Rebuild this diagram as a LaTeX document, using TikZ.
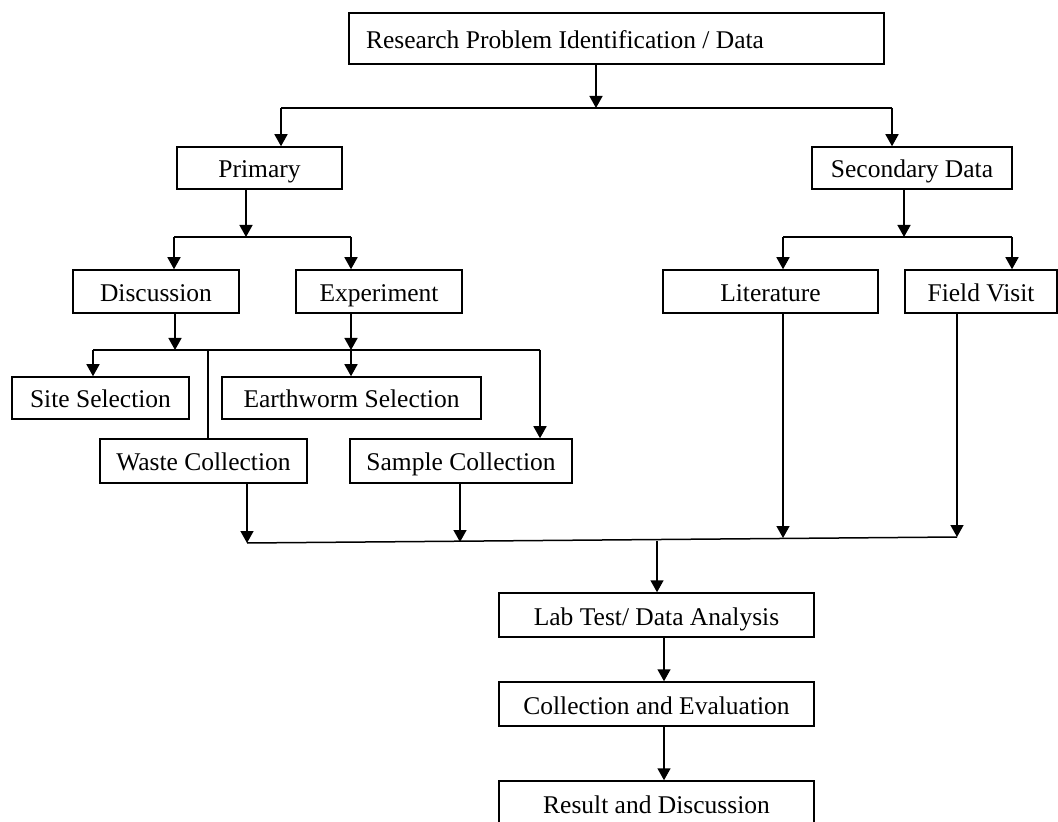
\documentclass[tikz,border=0pt]{standalone}
\usepackage{fontspec}
\setmainfont{Liberation Serif}
\usetikzlibrary{arrows.meta}
\begin{document}
\begin{tikzpicture}[x=0.5pt,y=-0.5pt,
  box/.style={draw, line width=0.75pt, inner sep=0pt, anchor=center,
    text height=11pt, text depth=1pt,
    font=\fontsize{12.75pt}{15pt}\selectfont},
  conn/.style={line width=0.75pt},
  arr/.style={conn, -{Triangle[length=6pt,width=6.5pt]}}]
\useasboundingbox (0,0) rectangle (1058,822);
\clip (0,0) rectangle (1058,822);
\fill[white] (0,0) rectangle (1058,822);
% boxes
\node[box, minimum width=267.5pt, minimum height=25.5pt, inner xsep=8.5pt, text width=250.5pt, align=flush left] (top) at (616.5,38.5) {Research Problem Identification / Data};
\node[box, minimum width=82.5pt, minimum height=21pt] (primary) at (259.5,168) {Primary};
\node[box, minimum width=100pt, minimum height=21pt] (secondary) at (912,168) {Secondary Data};
\node[box, minimum width=83pt, minimum height=21.5pt] (discussion) at (156,291.5) {Discussion};
\node[box, minimum width=83pt, minimum height=21.5pt] (experiment) at (379,291.5) {Experiment};
\node[box, minimum width=107.5pt, minimum height=21.5pt] (literature) at (770.5,291.5) {Literature};
\node[box, minimum width=76pt, minimum height=21.5pt] (fieldvisit) at (981,291.5) {Field Visit};
\node[box, minimum width=88.5pt, minimum height=21pt] (site) at (100.5,398) {Site Selection};
\node[box, minimum width=129.5pt, minimum height=21pt] (earthworm) at (351.5,398) {Earthworm Selection};
\node[box, minimum width=103.5pt, minimum height=22pt] (waste) at (203.5,461) {Waste Collection};
\node[box, minimum width=111pt, minimum height=22pt] (sample) at (461,461) {Sample Collection};
\node[box, minimum width=157.5pt, minimum height=22pt] (labtest) at (656.5,615) {Lab Test/ Data Analysis};
\node[box, minimum width=157.5pt, minimum height=22pt] (collection) at (656.5,704) {Collection and Evaluation};
\node[box, minimum width=157.5pt, minimum height=22pt] (result) at (656.5,803) {Result and Discussion};
% junction coordinates
\coordinate (j1) at (596,108);
\coordinate (l1a) at (281,108);
\coordinate (l1b) at (892,108);
\coordinate (j2) at (246,237);
\coordinate (l2a) at (174,237);
\coordinate (l2b) at (351,237);
\coordinate (j3) at (904,237);
\coordinate (l3a) at (783,237);
\coordinate (l3b) at (1012,237);
\coordinate (jd) at (175,350);
\coordinate (je) at (351,350);
\coordinate (l4a) at (93,350);
\coordinate (l4w) at (208,350);
\coordinate (l4b) at (540,350);
\coordinate (bw) at (247,543);
\coordinate (bs) at (460,542);
\coordinate (bl) at (783,538);
\coordinate (bf) at (957,537);
\coordinate (bc) at (657,541);
\coordinate (xc) at (664,0);
% top level
\draw[arr] (top.south -| j1) -- (j1);
\draw[conn] (l1a) -- (l1b);
\draw[arr] (l1a) -- (primary.north -| l1a);
\draw[arr] (l1b) -- (secondary.north -| l1b);
% primary branch
\draw[arr] (primary.south -| j2) -- (j2);
\draw[conn] (l2a) -- (l2b);
\draw[arr] (l2a) -- (discussion.north -| l2a);
\draw[arr] (l2b) -- (experiment.north -| l2b);
% secondary branch
\draw[arr] (secondary.south -| j3) -- (j3);
\draw[conn] (l3a) -- (l3b);
\draw[arr] (l3a) -- (literature.north -| l3a);
\draw[arr] (l3b) -- (fieldvisit.north -| l3b);
% discussion / experiment
\draw[arr] (discussion.south -| jd) -- (jd);
\draw[arr] (experiment.south -| je) -- (je);
\draw[conn] (l4a) -- (l4b);
\draw[arr] (l4a) -- (site.north -| l4a);
\draw[arr] (je) -- (earthworm.north -| je);
\draw[conn] (l4w) -- (waste.north -| l4w);
\draw[arr] (l4b) -- (sample.north -| l4b);
% gather
\draw[arr] (waste.south -| bw) -- (bw);
\draw[arr] (sample.south -| bs) -- (bs);
\draw[arr] (literature.south -| bl) -- (bl);
\draw[arr] (fieldvisit.south -| bf) -- (bf);
\draw[conn] (bw) -- (bf);
\draw[arr] (bc) -- (labtest.north -| bc);
\draw[arr] (labtest.south -| xc) -- (collection.north -| xc);
\draw[arr] (collection.south -| xc) -- (result.north -| xc);
\end{tikzpicture}
\end{document}
